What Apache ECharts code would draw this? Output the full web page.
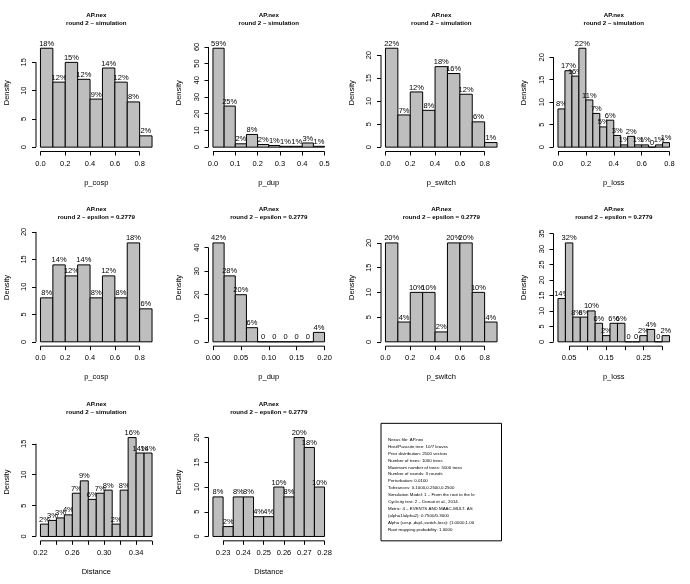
<!DOCTYPE html>
<html>
<head>
<meta charset="utf-8">
<title>AP.nex - round 2</title>
<script src="https://cdn.jsdelivr.net/npm/echarts@6/dist/echarts.min.js"></script>
<style>
  html, body { margin: 0; padding: 0; background: #fff; }
  #chart { width: 690px; height: 584px; }
</style>
</head>
<body>
<div id="chart"></div>
<script>
  const FONT = '"Liberation Sans", Arial, Helvetica, sans-serif'

  // row 1 : round 2 - simulation
  const cospSimBreaks = [0, 0.1, 0.2, 0.3, 0.4, 0.5, 0.6, 0.7, 0.8, 0.9]
  const cospSimValues = [17.5, 11.5, 15, 12, 8.5, 14, 11.5, 8, 2]
  const cospSimLabels = ['18%', '12%', '15%', '12%', '9%', '14%', '12%', '8%', '2%']

  const dupSimBreaks = [0, 0.05, 0.1, 0.15, 0.2, 0.25, 0.3, 0.35, 0.4, 0.45, 0.5]
  const dupSimValues = [59.2, 24.6, 2, 7.6, 1.6, 1, 0.5, 0.5, 2.5, 0.5]
  const dupSimLabels = ['59%', '25%', '2%', '8%', '2%', '1%', '1%', '1%', '3%', '1%']

  const switchSimBreaks = [0, 0.1, 0.2, 0.3, 0.4, 0.5, 0.6, 0.7, 0.8, 0.9]
  const switchSimValues = [21.5, 7, 12, 8, 17.5, 16, 11.5, 5.5, 1]
  const switchSimLabels = ['22%', '7%', '12%', '8%', '18%', '16%', '12%', '6%', '1%']

  const lossSimBreaks = [0, 0.05, 0.1, 0.15, 0.2, 0.25, 0.3, 0.35, 0.4, 0.45, 0.5, 0.55, 0.6, 0.65, 0.7, 0.75, 0.8]
  const lossSimValues = [8.5, 17, 15.8, 22, 10.5, 7.5, 4.5, 6, 2.6, 0.5, 2.4, 0.5, 0.5, 0, 0.5, 1]
  const lossSimLabels = ['8%', '17%', '16%', '22%', '11%', '7%', '5%', '6%', '3%', '1%', '2%', '1%', '1%', '0', '1%', '1%']

  // row 2 : round 2 - epsilon = 0.2779
  const cospEpsBreaks = [0, 0.1, 0.2, 0.3, 0.4, 0.5, 0.6, 0.7, 0.8, 0.9]
  const cospEpsValues = [8, 14, 12, 14, 8, 12, 8, 18, 6]
  const cospEpsLabels = ['8%', '14%', '12%', '14%', '8%', '12%', '8%', '18%', '6%']

  const dupEpsBreaks = [0, 0.02, 0.04, 0.06, 0.08, 0.1, 0.12, 0.14, 0.16, 0.18, 0.2]
  const dupEpsValues = [42, 28, 20, 6, 0, 0, 0, 0, 0, 4]
  const dupEpsLabels = ['42%', '28%', '20%', '6%', '0', '0', '0', '0', '0', '4%']

  const switchEpsBreaks = [0, 0.1, 0.2, 0.3, 0.4, 0.5, 0.6, 0.7, 0.8, 0.9]
  const switchEpsValues = [20, 4, 10, 10, 2, 20, 20, 10, 4]
  const switchEpsLabels = ['20%', '4%', '10%', '10%', '2%', '20%', '20%', '10%', '4%']

  const lossEpsBreaks = [0.02, 0.04, 0.06, 0.08, 0.1, 0.12, 0.14, 0.16, 0.18, 0.2, 0.22, 0.24, 0.26, 0.28, 0.3, 0.32]
  const lossEpsValues = [14, 32, 8, 8, 10, 6, 2, 6, 6, 0, 0, 2, 4, 0, 2]
  const lossEpsLabels = ['14%', '32%', '8%', '8%', '10%', '6%', '2%', '6%', '6%', '0', '0', '2%', '4%', '0', '2%']

  // row 3 : distance
  const distSimBreaks = [0.22, 0.23, 0.24, 0.25, 0.26, 0.27, 0.28, 0.29, 0.3, 0.31, 0.32, 0.33, 0.34, 0.35, 0.36]
  const distSimValues = [2, 2.6, 3, 3.5, 7, 9, 6, 7, 7.5, 2, 7.5, 16, 13.5, 13.5]
  const distSimLabels = ['2%', '3%', '3%', '4%', '7%', '9%', '6%', '7%', '8%', '2%', '8%', '16%', '14%', '14%']

  const distEpsBreaks = [0.225, 0.23, 0.235, 0.24, 0.245, 0.25, 0.255, 0.26, 0.265, 0.27, 0.275, 0.28]
  const distEpsValues = [8, 2, 8, 8, 4, 4, 10, 8, 20, 18, 10]
  const distEpsLabels = ['8%', '2%', '8%', '8%', '4%', '4%', '10%', '8%', '20%', '18%', '10%']

  // axis ticks
  const tenthTicks = [0, 0.2, 0.4, 0.6, 0.8]
  const tenthTickText = ['0.0', '0.2', '0.4', '0.6', '0.8']
  const dupSimTicks = [0, 0.1, 0.2, 0.3, 0.4, 0.5]
  const dupSimTickText = ['0.0', '0.1', '0.2', '0.3', '0.4', '0.5']
  const dupEpsTicks = [0, 0.05, 0.1, 0.15, 0.2]
  const dupEpsTickText = ['0.00', '0.05', '0.10', '0.15', '0.20']
  const lossEpsTicks = [0.05, 0.1, 0.15, 0.2, 0.25, 0.3]
  const lossEpsLabelAt = [0.05, 0.15, 0.25]
  const lossEpsTickText = ['0.05', '0.15', '0.25']
  const distSimTicks = [0.22, 0.24, 0.26, 0.28, 0.3, 0.32, 0.34, 0.36]
  const distSimLabelAt = [0.22, 0.26, 0.3, 0.34]
  const distSimTickText = ['0.22', '0.26', '0.30', '0.34']
  const distEpsTicks = [0.23, 0.24, 0.25, 0.26, 0.27, 0.28]
  const distEpsTickText = ['0.23', '0.24', '0.25', '0.26', '0.27', '0.28']

  const yTicks15 = [0, 5, 10, 15]
  const yTicks20 = [0, 5, 10, 15, 20]
  const yTicks35 = [0, 5, 10, 15, 20, 25, 30, 35]
  const yTicks40 = [0, 10, 20, 30, 40]
  const yTicks60 = [0, 10, 20, 30, 40, 50, 60]

  const titleSim = 'AP.nex\nround 2 – simulation'
  const titleEps = 'AP.nex\nround 2 – epsilon = 0.2779'

  // parameters text box (last cell)
  const infoLines = [
    'Nexus file: AP.nex',
    'Host/Parasite tree: 10/7 leaves',
    'Prior distribution: 2500 vectors',
    'Number of trees: 1000 trees',
    'Maximum number of trees: 5000 trees',
    'Number of rounds: 3 rounds',
    'Perturbation: 0.0100',
    'Tolerances: 0.1000,0.2500,0.2500',
    'Simulation Model: 1 – From the root to the le',
    'Cyclicity test: 2 – Donati et al., 2014.',
    'Metric: 4 – EVENTS AND MAAC-MULT. AS',
    '(alpha1/alpha2): 0.7500/0.3000',
    'Alpha (cosp.,dupl.,switch,loss): (1.0000,1.00',
    'Root mapping probability: 1.0000'
  ]

  const panels = [
    { title: titleSim, xName: 'p_cosp', breaks: cospSimBreaks, values: cospSimValues, labels: cospSimLabels, xTicks: tenthTicks, xLabelAt: tenthTicks, xText: tenthTickText, yTicks: yTicks15 },
    { title: titleSim, xName: 'p_dup', breaks: dupSimBreaks, values: dupSimValues, labels: dupSimLabels, xTicks: dupSimTicks, xLabelAt: dupSimTicks, xText: dupSimTickText, yTicks: yTicks60 },
    { title: titleSim, xName: 'p_switch', breaks: switchSimBreaks, values: switchSimValues, labels: switchSimLabels, xTicks: tenthTicks, xLabelAt: tenthTicks, xText: tenthTickText, yTicks: yTicks20 },
    { title: titleSim, xName: 'p_loss', breaks: lossSimBreaks, values: lossSimValues, labels: lossSimLabels, xTicks: tenthTicks, xLabelAt: tenthTicks, xText: tenthTickText, yTicks: yTicks20 },
    { title: titleEps, xName: 'p_cosp', breaks: cospEpsBreaks, values: cospEpsValues, labels: cospEpsLabels, xTicks: tenthTicks, xLabelAt: tenthTicks, xText: tenthTickText, yTicks: yTicks20 },
    { title: titleEps, xName: 'p_dup', breaks: dupEpsBreaks, values: dupEpsValues, labels: dupEpsLabels, xTicks: dupEpsTicks, xLabelAt: dupEpsTicks, xText: dupEpsTickText, yTicks: yTicks40 },
    { title: titleEps, xName: 'p_switch', breaks: switchEpsBreaks, values: switchEpsValues, labels: switchEpsLabels, xTicks: tenthTicks, xLabelAt: tenthTicks, xText: tenthTickText, yTicks: yTicks20 },
    { title: titleEps, xName: 'p_loss', breaks: lossEpsBreaks, values: lossEpsValues, labels: lossEpsLabels, xTicks: lossEpsTicks, xLabelAt: lossEpsLabelAt, xText: lossEpsTickText, yTicks: yTicks35 },
    { title: titleSim, xName: 'Distance', breaks: distSimBreaks, values: distSimValues, labels: distSimLabels, xTicks: distSimTicks, xLabelAt: distSimLabelAt, xText: distSimTickText, yTicks: yTicks15 },
    { title: titleEps, xName: 'Distance', breaks: distEpsBreaks, values: distEpsValues, labels: distEpsLabels, xTicks: distEpsTicks, xLabelAt: distEpsTicks, xText: distEpsTickText, yTicks: yTicks20 }
  ]

  const CELL_W = 690 / 4
  const CELL_H = 584 / 3
  const PLOT_LEFT = 36
  const PLOT_TOP = 34
  const PLOT_W = 120.5
  const PLOT_H = 117.5
  const TXT = 7.5

  //bars + percentage label on top, like R hist()+text()
  function makeBars(labels) {
    return function (params, api) {
      const p0 = api.coord([api.value(0), 0])
      const p1 = api.coord([api.value(1), api.value(2)])
      return {
        type: 'group',
        children: [
          {
            type: 'rect',
            shape: { x: p0[0], y: p1[1], width: p1[0] - p0[0], height: p0[1] - p1[1] },
            style: { fill: '#bebebe', stroke: '#000', lineWidth: 1 }
          },
          {
            type: 'text',
            style: {
              text: labels[params.dataIndex],
              x: (p0[0] + p1[0]) / 2,
              y: p1[1] - 0.5,
              align: 'center', verticalAlign: 'bottom',
              textAlign: 'center', textVerticalAlign: 'bottom',
              fill: '#000', fontSize: TXT, fontFamily: FONT
            }
          }
        ]
      }
    }
  }

  function findText(at, texts) {
    return function (v) {
      const k = at.findIndex(t => Math.abs(t - v) < 1e-9)
      return k < 0 ? '' : texts[k]
    }
  }

  const option = {
    animation: false,
    backgroundColor: '#fff',
    title: [],
    grid: [],
    xAxis: [],
    yAxis: [],
    series: [],
    graphic: []
  }

  panels.forEach((p, i) => {
    const x0 = (i % 4) * CELL_W
    const y0 = Math.floor(i / 4) * CELL_H
    const b0 = p.breaks[0]
    const bN = p.breaks[p.breaks.length - 1]
    const xMin = b0 - 0.04 * (bN - b0)
    const xMax = bN + 0.04 * (bN - b0)
    const yLim = Math.max(...p.values) * 1.1
    const yMin = -0.04 * yLim
    const yMax = 1.04 * yLim

    option.title.push({
      text: p.title,
      left: x0 + PLOT_LEFT + PLOT_W / 2,
      top: y0 + 11,
      textAlign: 'center',
      padding: 0,
      textStyle: { fontSize: 6.2, fontWeight: 'bold', lineHeight: 8, color: '#000', fontFamily: FONT }
    })
    option.grid.push({ left: x0 + PLOT_LEFT, top: y0 + PLOT_TOP, width: PLOT_W, height: PLOT_H })
    option.xAxis.push({
      gridIndex: i,
      type: 'value',
      min: xMin,
      max: xMax,
      axisLine: { show: false, onZero: false },
      splitLine: { show: false },
      axisTick: { show: true, customValues: p.xTicks, length: 4, lineStyle: { color: '#000', width: 1 } },
      axisLabel: { customValues: p.xLabelAt, formatter: findText(p.xLabelAt, p.xText), margin: 8, fontSize: TXT, color: '#000', fontFamily: FONT },
      name: p.xName,
      nameLocation: 'middle',
      nameGap: 27,
      nameTextStyle: { fontSize: TXT, color: '#000', fontFamily: FONT }
    })
    option.yAxis.push({
      gridIndex: i,
      type: 'value',
      min: yMin,
      max: yMax,
      axisLine: { show: false, onZero: false },
      splitLine: { show: false },
      axisTick: { show: true, customValues: p.yTicks, length: 4, lineStyle: { color: '#000', width: 1 } },
      axisLabel: { customValues: p.yTicks, rotate: 90, margin: 8, fontSize: TXT, color: '#000', fontFamily: FONT },
      name: 'Density',
      nameLocation: 'middle',
      nameGap: 25.5,
      nameTextStyle: { fontSize: TXT, color: '#000', fontFamily: FONT }
    })
    option.series.push({
      type: 'custom',
      xAxisIndex: i,
      yAxisIndex: i,
      silent: true,
      clip: false,
      renderItem: makeBars(p.labels),
      encode: { x: [0, 1], y: 2 },
      data: p.values.map((v, k) => [p.breaks[k], p.breaks[k + 1], v])
    })
    //R draws its axis lines only from the first to the last tick
    option.series.push({
      type: 'line',
      xAxisIndex: i,
      yAxisIndex: i,
      silent: true,
      clip: false,
      symbol: 'none',
      lineStyle: { color: '#000', width: 1 },
      data: [[p.xTicks[0], yMin], [p.xTicks[p.xTicks.length - 1], yMin]]
    })
    option.series.push({
      type: 'line',
      xAxisIndex: i,
      yAxisIndex: i,
      silent: true,
      clip: false,
      symbol: 'none',
      lineStyle: { color: '#000', width: 1 },
      data: [[xMin, p.yTicks[0]], [xMin, p.yTicks[p.yTicks.length - 1]]]
    })
  })

  //info box = plot region of the 11th cell, text clipped at its right edge
  const boxX = 2 * CELL_W + PLOT_LEFT
  const boxY = 2 * CELL_H + PLOT_TOP
  option.graphic.push({
    type: 'rect',
    shape: { x: boxX, y: boxY, width: PLOT_W, height: PLOT_H },
    style: { fill: '#fff', stroke: '#000', lineWidth: 1 }
  })
  option.graphic.push({
    type: 'text',
    x: boxX + 7,
    y: boxY + 13,
    style: {
      text: infoLines.join('\n'),
      fontSize: 4.4,
      lineHeight: 6.9,
      fontFamily: FONT,
      fill: '#000',
      width: PLOT_W - 8,
      overflow: 'truncate',
      ellipsis: ''
    }
  })

  const chart = echarts.init(document.getElementById('chart'))
  chart.setOption(option)
</script>
</body>
</html>
